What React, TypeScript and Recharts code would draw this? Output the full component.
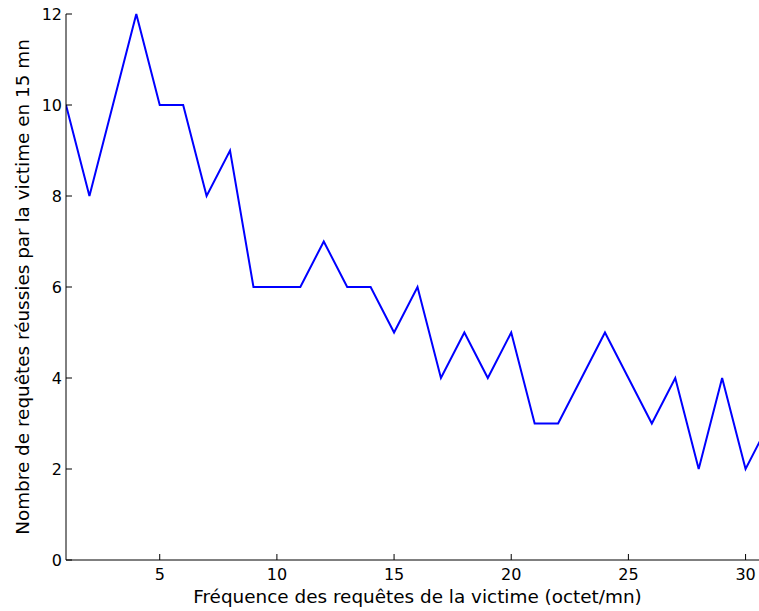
import React from 'react'
import { LineChart, Line, XAxis, YAxis } from 'recharts'

// frequence (octet/mn) -> nombre de requetes reussies en 15 mn
const frequencies = [
  1, 2, 3, 4, 5, 6, 7, 8, 9, 10, 11, 12, 13, 14, 15, 16,
  17, 18, 19, 20, 21, 22, 23, 24, 25, 26, 27, 28, 29, 30, 31,
]
const successes = [
  10, 8, 10, 12, 10, 10, 8, 9, 6, 6, 6, 7, 6, 6, 5, 6,
  4, 5, 4, 5, 3, 3, 4, 5, 4, 3, 4, 2, 4, 2, 3,
]
const xTicks = [5, 10, 15, 20, 25, 30]
const yTicks = [0, 2, 4, 6, 8, 10, 12]

const xLabel = 'Fréquence des requêtes de la victime (octet/mn)'
const yLabel = 'Nombre de requêtes réussies par la victime en 15 mn'

const data = frequencies.map((f, i) => ({ freq: f, count: successes[i] }))

const FONT = '"DejaVu Sans", sans-serif'
const TICK_LEN = 6
const TICK_FONT = 16
const TITLE_FONT = 18.4

function BottomTick(props: any) {
  const { x, y, payload } = props
  return (
    <g>
      <line x1={x} x2={x} y1={y} y2={y - TICK_LEN} stroke="#000" />
      <text x={x} y={y + 20} textAnchor="middle" fontSize={TICK_FONT} fill="#000" fontFamily={FONT}>
        {payload.value}
      </text>
    </g>
  )
}

function TopTick(props: any) {
  const { x, y } = props
  return <line x1={x} x2={x} y1={y} y2={y + TICK_LEN} stroke="#000" />
}

function LeftTick(props: any) {
  const { x, y, payload } = props
  return (
    <g>
      <line x1={x} x2={x + TICK_LEN} y1={y} y2={y} stroke="#000" />
      <text x={x - 4} y={y + 6} textAnchor="end" fontSize={TICK_FONT} fill="#000" fontFamily={FONT}>
        {payload.value}
      </text>
    </g>
  )
}

function YTitle(props: any) {
  const { viewBox } = props
  const cx = 29
  const cy = viewBox.y + viewBox.height / 2
  return (
    <text
      x={cx}
      y={cy}
      transform={`rotate(-90, ${cx}, ${cy})`}
      textAnchor="middle"
      fontSize={TITLE_FONT}
      fill="#000"
      fontFamily={FONT}
    >
      {yLabel}
    </text>
  )
}

function XTitle(props: any) {
  const { viewBox } = props
  const cx = viewBox.x + viewBox.width / 2
  return (
    <text x={cx} y={603} textAnchor="middle" fontSize={TITLE_FONT} fill="#000" fontFamily={FONT}>
      {xLabel}
    </text>
  )
}

export default function App() {
  return (
    <div
      style={{
        position: 'absolute',
        left: 0,
        top: 0,
        width: 759,
        height: 611,
        overflow: 'hidden',
        background: '#fff',
      }}
    >
      <LineChart
        width={770}
        height={611}
        data={data}
        margin={{ top: 14, right: 1, bottom: 0, left: 0 }}
        style={{ fontFamily: FONT }}
      >
        <XAxis
          dataKey="freq"
          type="number"
          domain={[1, 31]}
          ticks={xTicks}
          height={51}
          tickSize={0}
          tickMargin={0}
          tickLine={false}
          tick={<BottomTick />}
          axisLine={{ stroke: '#000' }}
          allowDataOverflow
          label={<XTitle />}
        />
        <XAxis
          xAxisId="top"
          orientation="top"
          dataKey="freq"
          type="number"
          domain={[1, 31]}
          ticks={xTicks}
          height={0}
          tickSize={0}
          tickMargin={0}
          tickLine={false}
          tick={<TopTick />}
          axisLine={{ stroke: '#000' }}
        />
        <YAxis
          type="number"
          domain={[0, 12]}
          ticks={yTicks}
          width={66}
          tickSize={0}
          tickMargin={0}
          tickLine={false}
          tick={<LeftTick />}
          axisLine={{ stroke: '#000' }}
          label={<YTitle />}
        />
        <YAxis
          yAxisId="right"
          orientation="right"
          type="number"
          domain={[0, 12]}
          ticks={yTicks}
          width={0}
          tick={false}
          tickLine={false}
          axisLine={{ stroke: '#000' }}
        />
        <Line
          dataKey="count"
          type="linear"
          stroke="#0000ff"
          strokeWidth={2}
          dot={false}
          isAnimationActive={false}
        />
      </LineChart>
    </div>
  )
}
